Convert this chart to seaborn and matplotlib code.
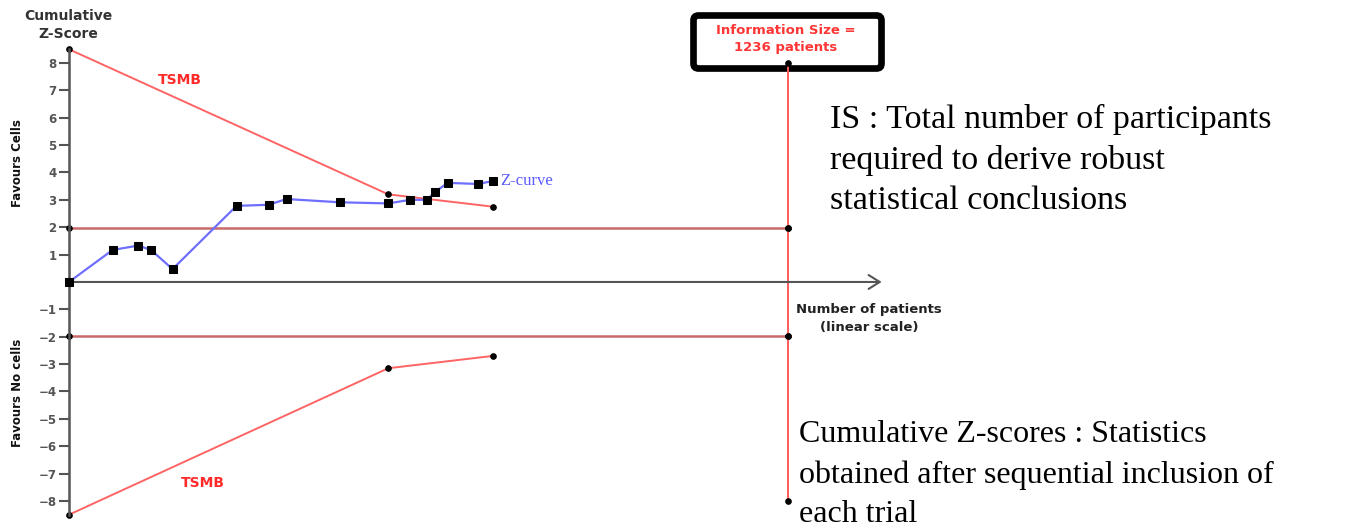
import pandas as pd
import matplotlib.pyplot as plt
import matplotlib.transforms as mtransforms
from matplotlib.patches import FancyBboxPatch
import seaborn as sns


# Z-curve (cumulative Z-score after each trial)
patients = [0, 75, 119, 141, 178, 288, 343, 374, 466, 549, 586, 615, 630, 651, 703, 729]
z_scores = [0, 1.17, 1.33, 1.17, 0.47, 2.78, 2.82, 3.03, 2.91, 2.87, 3.00, 3.00, 3.30, 3.62, 3.58, 3.69]

# trial sequential monitoring boundaries
tsmb_patients = [0, 549, 729]
tsmb_upper = [8.5, 3.20, 2.75]
tsmb_lower = [-8.5, -3.15, -2.70]

# conventional boundary and information size
info_size = 1236
conv_z = 1.96
is_z = 8
y_ticks = [-8, -7, -6, -5, -4, -3, -2, -1, 1, 2, 3, 4, 5, 6, 7, 8]

W, H = 1352, 531

sns.set_style("white")
plt.rcParams["font.family"] = ["DejaVu Sans"]

fig = plt.figure(figsize=(W / 100, H / 100), dpi=100, facecolor="white")
ax = fig.add_axes([0, 0, 1, 1])


def fpos(x, y):
    # pixel position -> figure fraction
    return x / W, 1 - y / H


dot = dict(marker="o", markersize=4, markerfacecolor="black", markeredgecolor="black")

# ±1.96 lines
for z in (conv_z, -conv_z):
    sns.lineplot(x=[0, info_size], y=[z, z], color="#c96a6a", lw=1.8,
                 sort=False, estimator=None, ax=ax, **dot)

# information size line
sns.lineplot(x=[info_size] * 4, y=[is_z, conv_z, -conv_z, -is_z], color="#ff5a5a", lw=1.4,
             sort=False, estimator=None, ax=ax, zorder=3, **dot)

# TSMB
for bound in (tsmb_upper, tsmb_lower):
    sns.lineplot(x=tsmb_patients, y=bound, color="#ff6464", lw=1.4,
                 sort=False, estimator=None, ax=ax, **dot)

# Z-curve
z_df = pd.DataFrame({"patients": patients, "z": z_scores})
sns.lineplot(data=z_df, x="patients", y="z", color="#6f6fff", lw=1.6, marker="s",
             markersize=5.5, markerfacecolor="black", markeredgecolor="black",
             sort=False, estimator=None, ax=ax, zorder=4)

# x axis arrow
ax.annotate("", xy=(1397, 0), xytext=(0, 0),
            arrowprops=dict(arrowstyle="->,head_length=0.8,head_width=0.5",
                            color="#555555", lw=1.5, shrinkA=0, shrinkB=0))

# y axis
ax.spines["left"].set_position(("data", 0))
ax.spines["left"].set_bounds(-8.5, 8.5)
ax.spines["left"].set_color("#555555")
ax.spines["left"].set_linewidth(1.8)
for s in ("top", "right", "bottom"):
    ax.spines[s].set_visible(False)
ax.set_xticks([])
ax.set_yticks(y_ticks)
ax.tick_params(axis="y", left=True, direction="out", length=7, width=1.5, colors="#555555",
               labelsize=8.5, pad=2)
for lbl in ax.get_yticklabels():
    lbl.set_fontweight("bold")
ax.set_xlabel("")
ax.set_ylabel("")

# info size box
box = FancyBboxPatch((693.5, H - 68.5), 188, 53,
                     boxstyle="round,pad=0,rounding_size=5",
                     transform=mtransforms.IdentityTransform(),
                     lw=4.8, ec="black", fc="white", zorder=1)
ax.add_patch(box)

ax.set_xlim(-118.6, 2205.5)
ax.set_ylim(-9.096, 10.30)

# labels
fig.text(*fpos(68, 25), "Cumulative\nZ-Score", ha="center", va="center",
         fontsize=10, fontweight="bold", color="#333333", linespacing=1.45)
fig.text(*fpos(18, 163), "Favours Cells", rotation=90, ha="center", va="center",
         fontsize=8.5, fontweight="bold", color="#111111")
fig.text(*fpos(18, 393), "Favours No cells", rotation=90, ha="center", va="center",
         fontsize=8.5, fontweight="bold", color="#111111")
fig.text(*fpos(180, 80), "TSMB", ha="center", va="center",
         fontsize=10, fontweight="bold", color="#ff2a2a")
fig.text(*fpos(203, 483), "TSMB", ha="center", va="center",
         fontsize=10, fontweight="bold", color="#ff2a2a")
fig.text(*fpos(500, 181), "Z-curve", ha="left", va="center",
         fontsize=12, family="Liberation Serif", color="#5a5aff")
fig.text(*fpos(786, 39), "Information Size =\n1236 patients", ha="center", va="center",
         fontsize=9.5, fontweight="bold", color="#ff3636", linespacing=1.5)
fig.text(*fpos(869, 318), "Number of patients\n(linear scale)", ha="center", va="center",
         fontsize=9.5, fontweight="bold", color="#222222", linespacing=1.5)

fig.text(*fpos(830, 104), "IS : Total number of participants\nrequired to derive robust\nstatistical conclusions",
         ha="left", va="top", fontsize=24.5, family="Liberation Serif", color="black",
         linespacing=1.4)
fig.text(*fpos(799, 420), "Cumulative Z-scores : Statistics\nobtained after sequential inclusion of\neach trial",
         ha="left", va="top", fontsize=23, family="Liberation Serif", color="black",
         linespacing=1.49)

fig.savefig("out.png", dpi=100, facecolor="white")
